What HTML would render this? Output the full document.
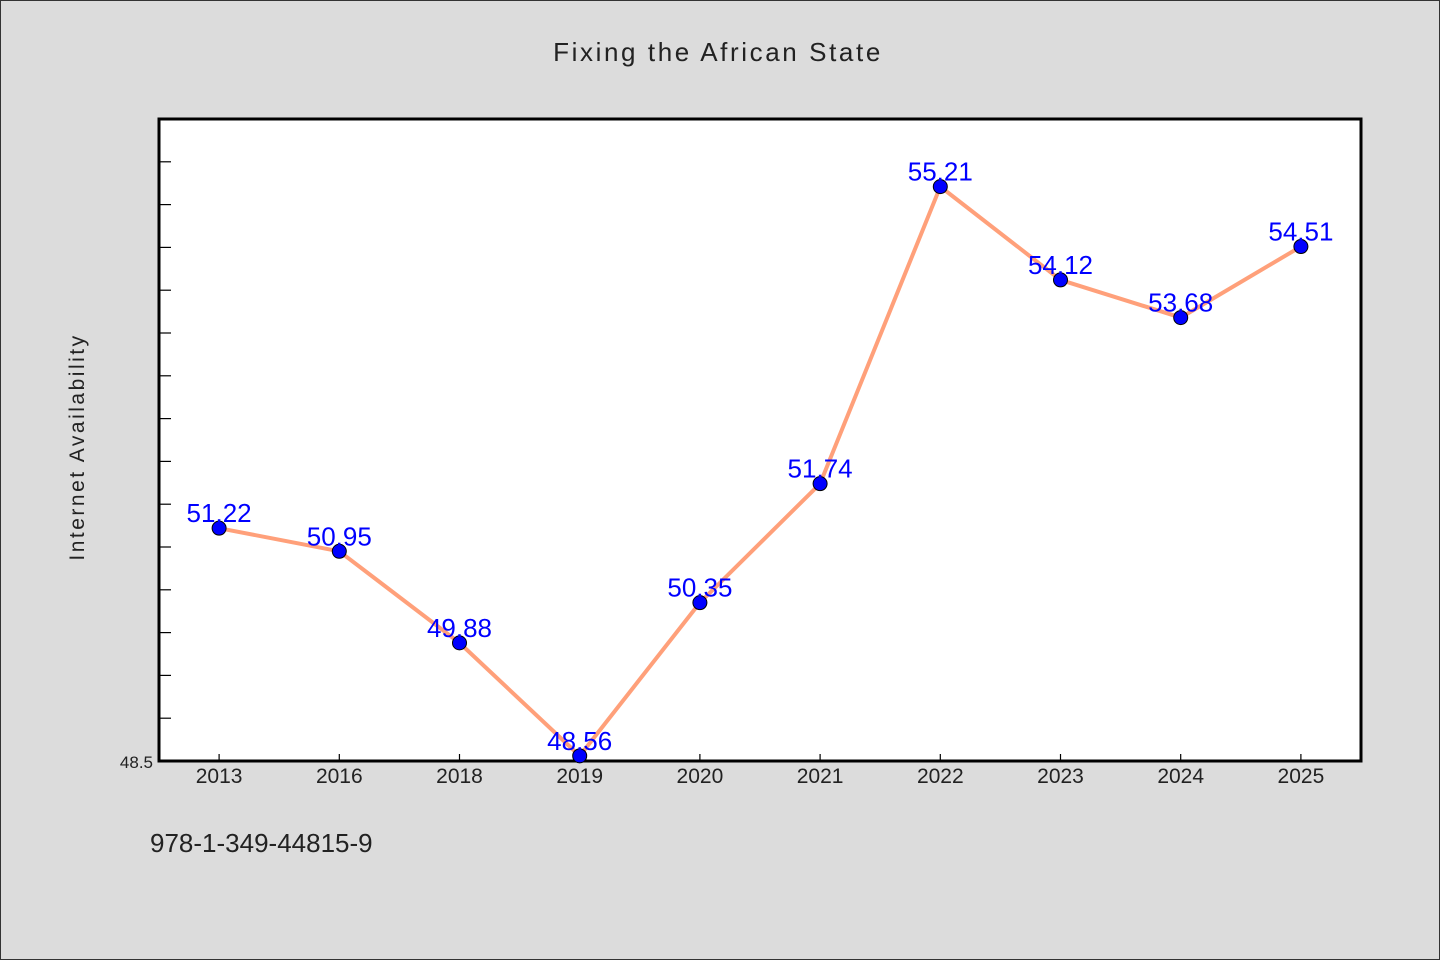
<!DOCTYPE html>
<html><head><meta charset="utf-8"><style>
html,body{margin:0;padding:0;background:#dcdcdc;}
svg{display:block;}
text{font-family:"WenQuanYi Zen Hei","Liberation Sans",sans-serif;}
</style></head><body>
<svg id="chart" width="1440" height="960">
<rect x="0.5" y="0.5" width="1439" height="959" fill="#dcdcdc" stroke="#333"/>
<text x="718" y="61" text-anchor="middle" font-size="26" letter-spacing="2.6" fill="#222">Fixing the African State</text>
<rect x="159" y="119" width="1202" height="642" fill="#fff" stroke="#000" stroke-width="3"/>
<text transform="translate(84,447) rotate(-90)" text-anchor="middle" font-size="21" letter-spacing="2.5" fill="#222">Internet Availability</text>
<text x="150" y="852" font-size="26" fill="#222">978-1-349-44815-9</text>
<g id="axes"></g>
<g id="marks"></g>
</svg>
<script>
const categories=["2013","2016","2018","2019","2020","2021","2022","2023","2024","2025"];
const values=[51.22,50.95,49.88,48.56,50.35,51.74,55.21,54.12,53.68,54.51];
const labels=["51.22","50.95","49.88","48.56","50.35","51.74","55.21","54.12","53.68","54.51"];
const yMin=48.5,yMax=56,yStep=0.5;
const L=159,R=1361,T=119,B=761;
const NS="http://www.w3.org/2000/svg";
const bw=(R-L)/categories.length;
const x=i=>L+bw*(i+0.5);
const y=v=>B-(v-yMin)/(yMax-yMin)*(B-T);
function mk(tag,attrs,parent){const e=document.createElementNS(NS,tag);for(const k in attrs)e.setAttribute(k,attrs[k]);parent.appendChild(e);return e;}
const axes=document.getElementById('axes'),marks=document.getElementById('marks');
for(let v=yMin+yStep;v<yMax-1e-9;v+=yStep){
 const t=mk('line',{x1:L,x2:L+12,y1:y(v),y2:y(v),stroke:'#000','stroke-width':1.2},axes);
 
 
}
const yl=mk('text',{x:153,y:y(yMin)+7,'text-anchor':'end','font-size':17,fill:'#222'},axes);
yl.textContent=yMin.toString();


categories.forEach((c,i)=>{
 const t=mk('line',{x1:x(i),x2:x(i),y1:B,y2:B-7,stroke:'#000','stroke-width':1.2},axes);
 
 
 const tl=mk('text',{x:x(i),y:B+22,'text-anchor':'middle','font-size':21,fill:'#222'},axes);
 tl.textContent=c;
 
 
});
const pts=values.map((v,i)=>x(i)+','+y(v)).join(' ');
const line=mk('polyline',{points:pts,fill:'none',stroke:'#ffa07a','stroke-width':4,'stroke-linejoin':'round'},marks);


values.forEach((v,i)=>{
 const p=mk('circle',{cx:x(i),cy:y(v),r:7,fill:'#0000ff',stroke:'#000','stroke-width':1},marks);
 
 
 const t=mk('text',{x:x(i),y:y(v)-6,'text-anchor':'middle','font-size':26,fill:'#0000ff'},marks);
 t.textContent=labels[i];
 
 
});
</script>
</body></html>
